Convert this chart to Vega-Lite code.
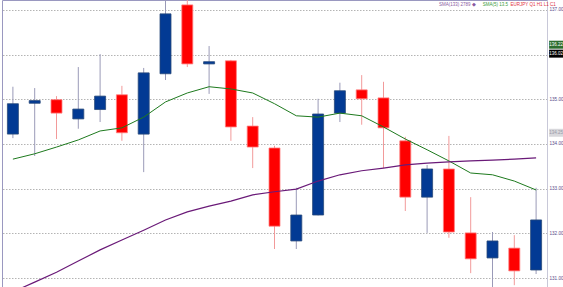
{
  "$schema": "https://vega.github.io/schema/vega-lite/v6.json",
  "width": 545,
  "height": 287,
  "autosize": {"type": "none"},
  "padding": {"left": 2, "top": 0, "right": 16, "bottom": 0},
  "background": "white",
  "config": {
    "view": {"stroke": "#9a98c0", "strokeWidth": 1},
    "axis": {"labelFont": "Liberation Sans", "labelFontSize": 4.6, "labelColor": "#5a4a8a"}
  },
  "datasets": {
    "ohlc": [
      {"i": 1, "o": 134.22, "h": 135.28, "l": 134.13, "c": 134.90, "ma1": 133.66, "ma2": 130.69},
      {"i": 2, "o": 134.91, "h": 135.25, "l": 133.73, "c": 134.97, "ma1": 133.78, "ma2": 130.91},
      {"i": 3, "o": 134.99, "h": 135.07, "l": 134.11, "c": 134.69, "ma1": 133.93, "ma2": 131.13},
      {"i": 4, "o": 134.56, "h": 135.72, "l": 134.34, "c": 134.78, "ma1": 134.09, "ma2": 131.38},
      {"i": 5, "o": 134.77, "h": 136.01, "l": 134.49, "c": 135.07, "ma1": 134.29, "ma2": 131.63},
      {"i": 6, "o": 135.10, "h": 135.30, "l": 134.07, "c": 134.25, "ma1": 134.36, "ma2": 131.85},
      {"i": 7, "o": 134.22, "h": 135.70, "l": 133.37, "c": 135.59, "ma1": 134.60, "ma2": 132.07},
      {"i": 8, "o": 135.57, "h": 137.22, "l": 135.43, "c": 136.91, "ma1": 134.94, "ma2": 132.30},
      {"i": 9, "o": 137.11, "h": 137.22, "l": 135.72, "c": 135.79, "ma1": 135.14, "ma2": 132.48},
      {"i": 10, "o": 135.79, "h": 136.19, "l": 135.12, "c": 135.84, "ma1": 135.28, "ma2": 132.61},
      {"i": 11, "o": 135.86, "h": 135.88, "l": 134.07, "c": 134.38, "ma1": 135.23, "ma2": 132.72},
      {"i": 12, "o": 134.40, "h": 134.60, "l": 133.46, "c": 133.93, "ma1": 135.14, "ma2": 132.86},
      {"i": 13, "o": 133.91, "h": 133.96, "l": 131.65, "c": 132.16, "ma1": 134.90, "ma2": 132.93},
      {"i": 14, "o": 131.83, "h": 133.02, "l": 131.65, "c": 132.41, "ma1": 134.63, "ma2": 132.99},
      {"i": 15, "o": 132.41, "h": 135.01, "l": 132.40, "c": 134.67, "ma1": 134.60, "ma2": 133.17},
      {"i": 16, "o": 134.69, "h": 135.37, "l": 134.49, "c": 135.19, "ma1": 134.69, "ma2": 133.31},
      {"i": 17, "o": 135.21, "h": 135.54, "l": 134.43, "c": 135.01, "ma1": 134.63, "ma2": 133.40},
      {"i": 18, "o": 135.03, "h": 135.39, "l": 133.46, "c": 134.36, "ma1": 134.38, "ma2": 133.46},
      {"i": 19, "o": 134.07, "h": 134.16, "l": 132.50, "c": 132.81, "ma1": 134.11, "ma2": 133.53},
      {"i": 20, "o": 132.81, "h": 133.53, "l": 132.01, "c": 133.44, "ma1": 133.87, "ma2": 133.57},
      {"i": 21, "o": 133.44, "h": 134.18, "l": 131.90, "c": 132.03, "ma1": 133.62, "ma2": 133.60},
      {"i": 22, "o": 132.01, "h": 132.81, "l": 131.11, "c": 131.43, "ma1": 133.35, "ma2": 133.62},
      {"i": 23, "o": 131.45, "h": 132.03, "l": 130.73, "c": 131.83, "ma1": 133.31, "ma2": 133.64},
      {"i": 24, "o": 131.67, "h": 131.96, "l": 130.84, "c": 131.16, "ma1": 133.17, "ma2": 133.66},
      {"i": 25, "o": 131.18, "h": 133.02, "l": 131.09, "c": 132.30, "ma1": 132.97, "ma2": 133.69}
    ],
    "legend": [
      {"i": 20, "part": "a", "label": "SMA(133) 2789 \u25c6"},
      {"i": 22, "part": "b", "label": "SMA(5) 13.5"}
    ],
    "legend2": [
      {"i": 23, "part": "c", "label": "EURJPY Q1 H1 L1 C1"}
    ],
    "tags": [
      {"i": 25, "v": 136.22, "label": "136.22", "kind": "g"},
      {"i": 25, "v": 136.02, "label": "136.02", "kind": "k"},
      {"i": 25, "v": 134.25, "label": "134.25", "kind": "s"}
    ]
  },
  "encoding": {
    "x": {"field": "i", "type": "ordinal", "axis": null, "scale": {"paddingInner": 0, "paddingOuter": 0, "domain": [1,2,3,4,5,6,7,8,9,10,11,12,13,14,15,16,17,18,19,20,21,22,23,24,25]}}
  },
  "layer": [
    {
      "data": {"name": "ohlc"},
      "mark": {"type": "rule", "clip": true, "strokeWidth": 1},
      "encoding": {
        "y": {"field": "l", "type": "quantitative", "scale": {"domain": [130.8, 137.22], "zero": false, "nice": false},
          "axis": {"orient": "right", "values": [131, 131.5, 132, 132.5, 133, 133.5, 134, 134.5, 135, 135.5, 136, 136.5, 137], "format": ".2f", "title": null,
            "grid": true, "gridColor": "#b4b4b4", "gridDash": [1.5, 1.5], "gridWidth": 1, "domainColor": "#c8c8d8", "ticks": false, "labelPadding": 2}},
        "y2": {"field": "h"},
        "color": {"condition": {"test": "datum.o < datum.c", "value": "#9a9ab8"}, "value": "#f29a9a"}
      }
    },
    {
      "data": {"name": "ohlc"},
      "mark": {"type": "bar", "size": 11, "clip": true, "strokeWidth": 0.8},
      "encoding": {
        "y": {"field": "o", "type": "quantitative"},
        "y2": {"field": "c"},
        "color": {"condition": {"test": "datum.o < datum.c", "value": "#023a94"}, "value": "#ff0000"},
        "stroke": {"condition": {"test": "datum.o < datum.c", "value": "#2a4a7a"}, "value": "#ff8080"}
      }
    },
    {
      "data": {"name": "ohlc"},
      "mark": {"type": "line", "clip": true, "color": "#1e7a1e", "strokeWidth": 1},
      "encoding": {"y": {"field": "ma1", "type": "quantitative"}}
    },
    {
      "data": {"name": "ohlc"},
      "mark": {"type": "line", "clip": true, "color": "#6a1a78", "strokeWidth": 1.2},
      "encoding": {"y": {"field": "ma2", "type": "quantitative"}}
    },
    {
      "data": {"name": "legend"},
      "mark": {"type": "text", "align": "left", "baseline": "middle", "fontSize": 4.5, "font": "Liberation Sans", "dx": 12},
      "encoding": {
        "y": {"datum": 137.1, "type": "quantitative"},
        "text": {"field": "label"},
        "color": {"field": "part", "type": "nominal", "legend": null, "scale": {"domain": ["a", "b", "c"], "range": ["#8a5aa0", "#3a9a3a", "#e03040"]}}
      }
    },
    {
      "data": {"name": "legend2"},
      "mark": {"type": "text", "align": "left", "baseline": "middle", "fontSize": 4.5, "font": "Liberation Sans", "dx": 18},
      "encoding": {
        "y": {"datum": 137.1, "type": "quantitative"},
        "text": {"field": "label"},
        "color": {"field": "part", "type": "nominal", "legend": null}
      }
    },
    {
      "data": {"name": "tags"},
      "mark": {"type": "point", "filled": true, "opacity": 1, "size": 196, "shape": "M-1,-0.57H1V0.57H-1Z", "xOffset": 20},
      "encoding": {
        "y": {"field": "v", "type": "quantitative"},
        "fill": {"field": "kind", "type": "nominal", "legend": null, "scale": {"domain": ["g", "k", "s"], "range": ["#2e6e2e", "#000000", "#d8d8dc"]}}
      }
    },
    {
      "data": {"name": "tags"},
      "mark": {"type": "text", "align": "center", "baseline": "middle", "fontSize": 4.5, "font": "Liberation Sans", "dx": 20},
      "encoding": {
        "y": {"field": "v", "type": "quantitative"},
        "text": {"field": "label"},
        "color": {"condition": {"test": "datum.kind == 's'", "value": "#9a9aa8"}, "value": "#ffffff"}
      }
    }
  ]
}
